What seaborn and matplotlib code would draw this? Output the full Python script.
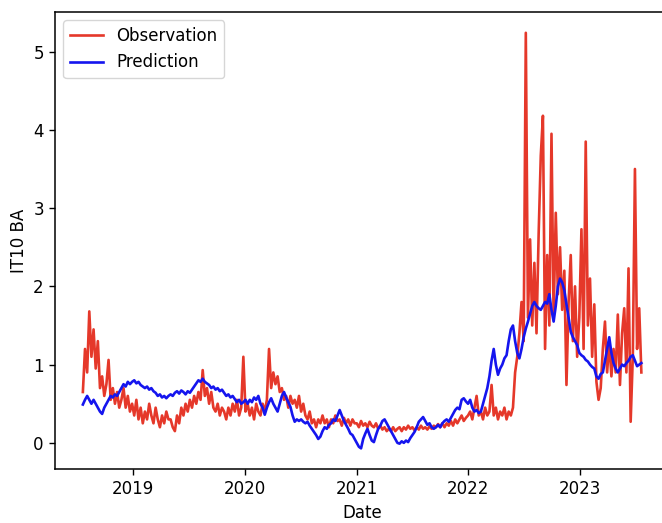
import matplotlib
matplotlib.use("Agg")
import matplotlib.pyplot as plt
import matplotlib.dates as mdates
import seaborn as sns
import pandas as pd

# Observation values (weekly samples, starting 2018-07-20)
obs_2018 = [0.65, 1.2, 0.9, 1.68, 1.1, 1.45, 0.95, 1.3, 0.7, 0.85, 0.6, 0.75, 1.06,
            0.55, 0.7, 0.5, 0.65, 0.45, 0.55, 0.7, 0.45, 0.6, 0.4]
obs_2019 = [0.5, 0.35, 0.55, 0.3, 0.45, 0.25, 0.4, 0.3, 0.5, 0.35,
            0.25, 0.45, 0.3, 0.2, 0.35, 0.25, 0.4, 0.3, 0.3, 0.2,
            0.15, 0.35, 0.25, 0.45, 0.35, 0.5, 0.4, 0.55, 0.45, 0.6,
            0.5, 0.65, 0.55, 0.93, 0.6, 0.7, 0.5, 0.65, 0.45, 0.4,
            0.5, 0.35, 0.45, 0.4, 0.3, 0.45, 0.35, 0.5, 0.4, 0.55,
            0.35, 0.45, 1.1]
obs_2020 = [0.4, 0.5, 0.35, 0.45, 0.3, 0.5, 0.4, 0.35, 0.5, 0.4,
            0.55, 1.2, 0.7, 0.9, 0.75, 0.85, 0.65, 0.7, 0.55, 0.6,
            0.45, 0.6, 0.5, 0.55, 0.45, 0.6, 0.4, 0.5, 0.35, 0.3,
            0.4, 0.25, 0.3, 0.2, 0.3, 0.25, 0.35, 0.25, 0.3, 0.2,
            0.3, 0.25, 0.35, 0.28, 0.3, 0.22, 0.32, 0.25, 0.3, 0.22,
            0.3, 0.25]
obs_2021 = [0.25, 0.2, 0.28, 0.22, 0.25, 0.2, 0.27, 0.22, 0.2, 0.25,
            0.18, 0.22, 0.17, 0.2, 0.15, 0.18, 0.15, 0.2, 0.15, 0.18,
            0.2, 0.15, 0.2, 0.17, 0.22, 0.18, 0.2, 0.16, 0.2, 0.17,
            0.22, 0.18, 0.2, 0.17, 0.21, 0.18, 0.22, 0.2, 0.24, 0.2,
            0.25, 0.2, 0.25, 0.22, 0.28, 0.22, 0.3, 0.25, 0.3, 0.35,
            0.28, 0.32]
obs_2022a = [0.35, 0.4, 0.3, 0.45, 0.6, 0.35, 0.4, 0.3, 0.45, 0.35,
             0.4, 0.74, 0.35, 0.45, 0.3, 0.4, 0.35, 0.45, 0.3, 0.4,
             0.35, 0.45, 0.9, 1.1]
obs_2022b = [1.4, 1.8, 1.3, 5.24, 1.6, 2.6, 1.5, 2.3, 1.4, 2.67,
             3.67, 4.18, 1.2, 2.4, 1.5, 3.95, 1.6, 2.94, 1.9, 2.5,
             1.7, 2.2, 0.74, 1.8, 2.4, 1.3, 2.0, 1.1]
obs_2023 = [1.6, 2.73, 1.2, 3.85, 1.5, 2.1, 1.1, 1.77, 0.78, 0.55,
            0.7, 1.2, 1.55, 0.9, 1.3, 0.85, 1.2, 0.9, 1.64, 0.74,
            1.4, 1.72, 0.9, 2.23, 0.27, 1.1, 3.5, 1.2, 1.72, 0.9]

# Prediction values (same weekly dates)
pred_2018 = [0.49, 0.55, 0.6, 0.55, 0.5, 0.55, 0.5, 0.45, 0.4, 0.37, 0.45, 0.5, 0.55,
             0.6, 0.58, 0.62, 0.6, 0.65, 0.7, 0.75, 0.72, 0.78, 0.75]
pred_2019 = [0.78, 0.8, 0.76, 0.78, 0.74, 0.72, 0.7, 0.72, 0.68, 0.7,
             0.66, 0.64, 0.6, 0.62, 0.58, 0.6, 0.57, 0.6, 0.62, 0.6,
             0.64, 0.66, 0.63, 0.67, 0.65, 0.62, 0.66, 0.64, 0.68, 0.72,
             0.76, 0.8, 0.78, 0.82, 0.78, 0.76, 0.74, 0.7, 0.72, 0.68,
             0.7, 0.66, 0.68, 0.64, 0.6, 0.62, 0.58, 0.6, 0.56, 0.52,
             0.55, 0.5, 0.52]
pred_2020 = [0.55, 0.5, 0.55, 0.52, 0.58, 0.55, 0.6, 0.5, 0.45, 0.36,
             0.45, 0.52, 0.57, 0.5, 0.45, 0.4, 0.5, 0.6, 0.65, 0.58,
             0.52, 0.46, 0.35, 0.27, 0.3, 0.28, 0.3, 0.27, 0.25, 0.27,
             0.22, 0.18, 0.14, 0.1, 0.05, 0.08, 0.15, 0.2, 0.18, 0.23,
             0.25, 0.3, 0.28, 0.35, 0.42, 0.35, 0.28, 0.23, 0.18, 0.12,
             0.1, 0.05]
pred_2021 = [0.0, -0.05, -0.07, 0.05, 0.12, 0.18, 0.1, 0.03, 0.01, 0.1,
             0.18, 0.22, 0.28, 0.3, 0.25, 0.2, 0.15, 0.1, 0.05, 0.0,
             -0.01, 0.02, 0.0, 0.03, 0.01, 0.06, 0.1, 0.14, 0.2, 0.27,
             0.3, 0.33, 0.28, 0.23, 0.25, 0.2, 0.18, 0.2, 0.23, 0.2,
             0.25, 0.28, 0.3, 0.27, 0.32, 0.37, 0.42, 0.45, 0.43, 0.55,
             0.57, 0.53]
pred_2022a = [0.5, 0.55, 0.45, 0.4, 0.42, 0.38, 0.4, 0.5, 0.6, 0.7,
              0.85, 1.05, 1.2, 1.0, 0.87, 0.95, 1.0, 1.08, 1.12, 1.3,
              1.45, 1.5, 1.3, 1.15]
pred_2022b = [1.08, 1.2, 1.35, 1.46, 1.55, 1.65, 1.75, 1.8, 1.75, 1.72,
              1.7, 1.75, 1.8, 1.78, 1.9, 1.7, 1.55, 1.75, 2.0, 2.1,
              2.05, 1.95, 1.77, 1.6, 1.42, 1.35, 1.3, 1.25]
pred_2023 = [1.15, 1.12, 1.1, 1.06, 1.04, 1.0, 0.97, 0.95, 0.85, 0.82,
             0.88, 0.9, 1.05, 1.2, 1.35, 1.15, 1.02, 0.95, 0.9, 0.95,
             1.0, 0.98, 1.02, 1.05, 1.1, 1.12, 1.05, 0.98, 1.0, 1.02]

observation = obs_2018 + obs_2019 + obs_2020 + obs_2021 + obs_2022a + obs_2022b + obs_2023
prediction = pred_2018 + pred_2019 + pred_2020 + pred_2021 + pred_2022a + pred_2022b + pred_2023
n = min(len(observation), len(prediction))
dates = pd.date_range("2018-07-20", periods=n, freq="7D")

df = pd.DataFrame({"Date": dates,
                   "Observation": observation[:n],
                   "Prediction": prediction[:n]})

plt.rcParams["font.family"] = ["DejaVu Sans"]
fig = plt.figure(figsize=(6.62, 5.23), dpi=100)
ax = fig.add_axes([0.083, 0.103, 0.928, 0.874])

sns.lineplot(data=df, x="Date", y="Observation", ax=ax, color="#e5382a",
             linewidth=1.9, label="Observation")
sns.lineplot(data=df, x="Date", y="Prediction", ax=ax, color="#1515ee",
             linewidth=1.9, label="Prediction")

ax.xaxis.set_major_locator(mdates.YearLocator())
ax.xaxis.set_major_formatter(mdates.DateFormatter("%Y"))
ax.set_yticks([0, 1, 2, 3, 4, 5])
ax.tick_params(labelsize=12, length=4.5, width=1)
ax.set_xlabel("Date", fontsize=12)
ax.set_ylabel("IT10 BA", fontsize=12)
for s in ax.spines.values():
    s.set_linewidth(1.1)
ax.spines["right"].set_visible(False)
ax.legend(loc="upper left", fontsize=12)

fig.savefig("out.png", dpi=100)
